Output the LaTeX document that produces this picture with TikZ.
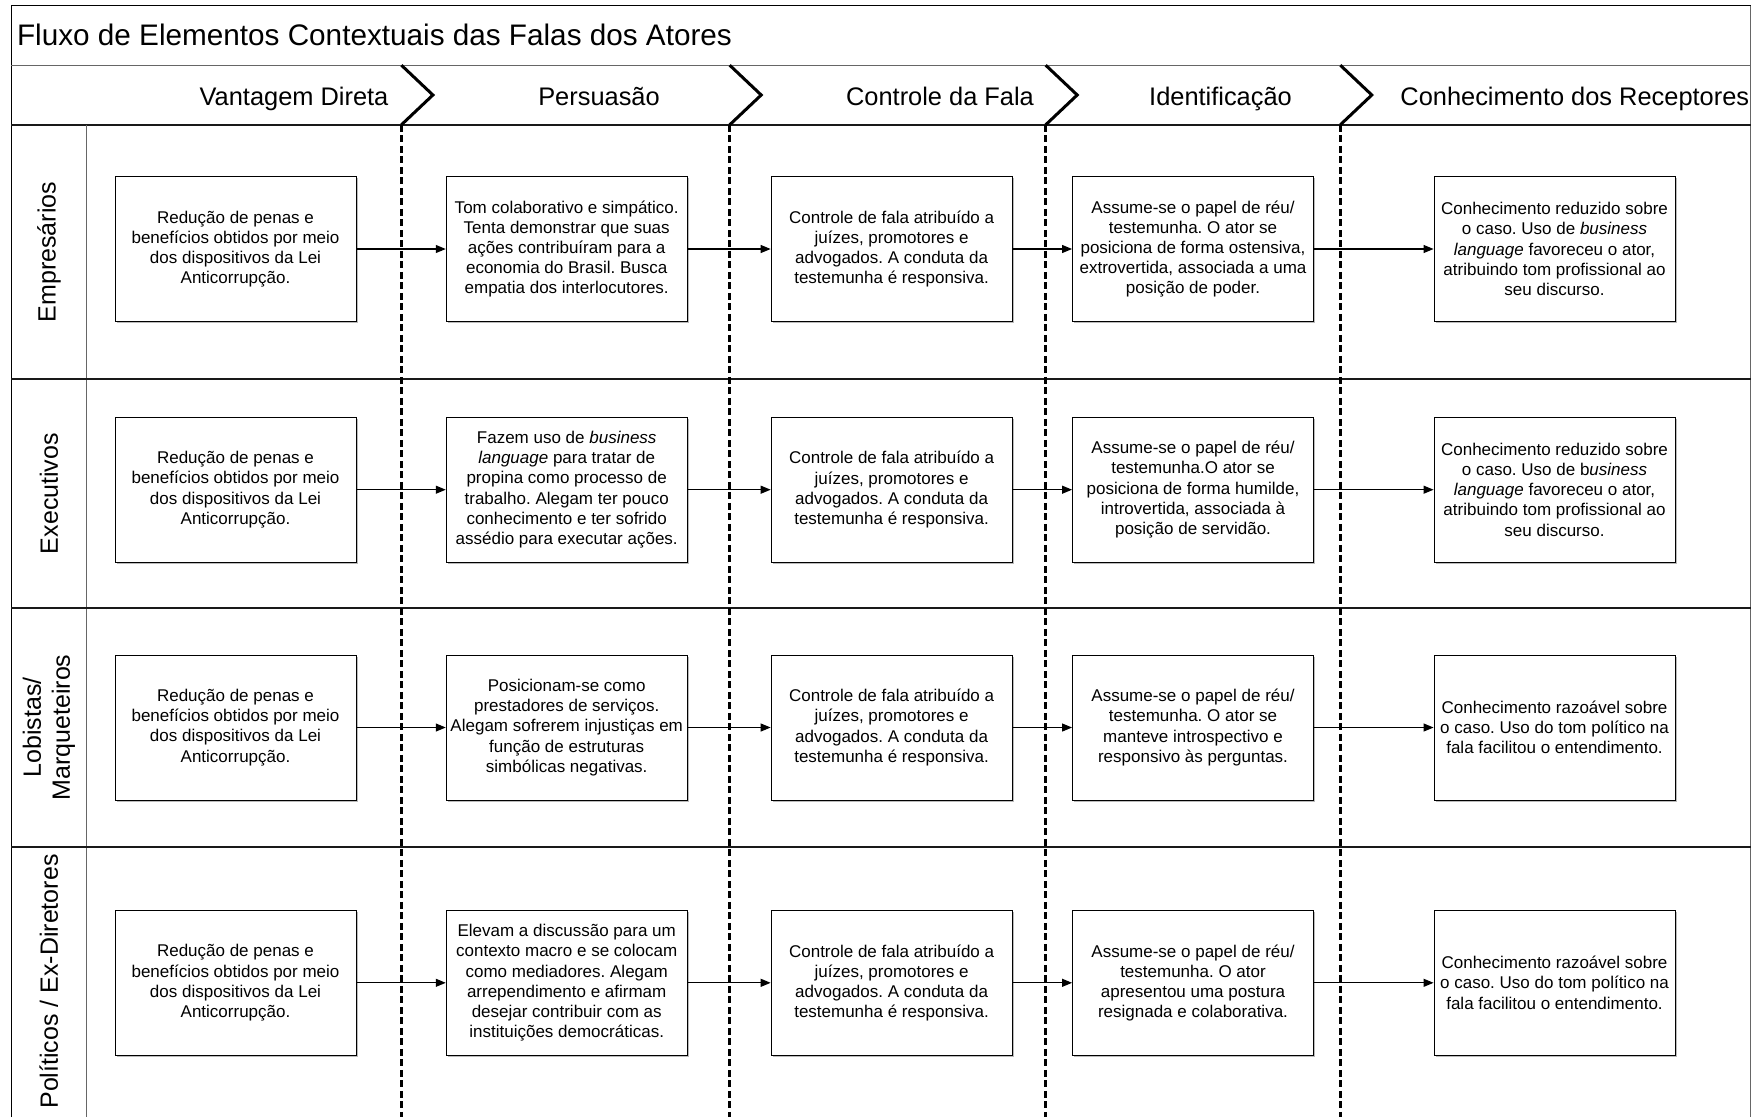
\documentclass[tikz,border=0pt]{standalone}
\usepackage{fontspec}
\setmainfont{Liberation Sans}
\frenchspacing
\usetikzlibrary{arrows.meta,shadows}
\begin{document}
\begin{tikzpicture}[x=1pt,y=-1pt,
  stagebox/.style={draw=black, line width=0.9pt, fill=white,
    minimum width=241pt, minimum height=145pt, inner sep=0pt, align=center,
    font=\fontsize{17}{20.2}\selectfont,
    drop shadow={shadow xshift=1.6pt, shadow yshift=-1.6pt, fill=black!45, opacity=0.6}},
  flow/.style={line width=1.1pt, -{Triangle[length=10pt,width=8pt]}},
  phase/.style={font=\fontsize{25.4}{29}\selectfont, inner sep=0pt,
    text height=18.5pt, text depth=5.5pt},
  lane/.style={font=\fontsize{25}{29}\selectfont, inner sep=0pt, rotate=90, align=center},
  chevron/.style={line width=3pt, line join=miter},
  boundary/.style={line width=3.4pt, dash pattern=on 7pt off 3.5pt},
  laneline/.style={line width=1.8pt, draw=black!90},
  thinline/.style={line width=1.1pt, draw=black!60}]

\useasboundingbox[fill=white] (0,0) rectangle (1763,1117);

% outer frame (open at the bottom)
\draw[line width=1.4pt] (11.2,1117) -- (11.2,5.6) -- (1750.7,5.6);
\draw[thinline] (1750.7,5.6) -- (1750.7,1117);

% title and phase rows
\draw[thinline] (11.2,65.2) -- (1750.7,65.2);
\draw[laneline] (11.2,124.8) -- (1750.7,124.8);
\node[anchor=west, inner sep=0pt, font=\fontsize{29.7}{34}\selectfont,
  text height=21.5pt, text depth=6.5pt] (title) at (16.9,38.3)
  {Fluxo de Elementos Contextuais das Falas dos Atores};

% lane separators
\draw[thinline] (86.6,124.8) -- (86.6,1117);
\draw[laneline] (11.2,378.9) -- (1750.7,378.9);
\draw[laneline] (11.2,608.3) -- (1750.7,608.3);
\draw[laneline] (11.2,846.7) -- (1750.7,846.7);

% phase labels
\node[phase] (ph1) at (294,98.8) {Vantagem Direta};
\node[phase] (ph2) at (599,98.8) {Persuasão};
\node[phase] (ph3) at (940,98.8) {Controle da Fala};
\node[phase] (ph4) at (1220.5,98.8) {Identificação};
\node[phase] (ph5) at (1574.8,98.8) {Conhecimento dos Receptores};

% chevrons and phase boundaries
\foreach \xa/\xb in {401.4/432.9, 729.7/761.2, 1045.7/1077.2, 1340.3/1371.8}{
  \draw[chevron] (\xa,65.2) -- (\xb,95.0) -- (\xa,124.8);
  \draw[boundary] (\xa,124.8) -- (\xa,1117);
}

% lane labels
\node[lane] (l1) at (48.9,252) {Empresários};
\node[lane] (l2) at (48.9,493.6) {Executivos};
\node[lane] (l3) at (48.9,727.5) {Lobistas/\\Marqueteiros};
\node[lane] (l4) at (48.9,981.5) {Políticos / Ex-Diretores};

% lane 1: Empresarios
\node[stagebox] (a1) at (235.5,249) {Redução de penas e\\benefícios obtidos por meio\\dos dispositivos da Lei\\Anticorrupção.};
\node[stagebox] (a2) at (566.7,249) {Tom colaborativo e simpático.\\Tenta demonstrar que suas\\ações contribuíram para a\\economia do Brasil. Busca\\empatia dos interlocutores.};
\node[stagebox] (a3) at (891.6,249) {Controle de fala atribuído a\\juízes, promotores e\\advogados. A conduta da\\testemunha é responsiva.};
\node[stagebox] (a4) at (1193,249) {Assume-se o papel de réu/\\testemunha. O ator se\\posiciona de forma ostensiva,\\extrovertida, associada a uma\\posição de poder.};
\node[stagebox] (a5) at (1554.5,249) {Conhecimento reduzido sobre\\o caso. Uso de \textit{business}\\\textit{language} favoreceu o ator,\\atribuindo tom profissional ao\\seu discurso.};

% lane 2: Executivos
\node[stagebox] (b1) at (235.5,489.7) {Redução de penas e\\benefícios obtidos por meio\\dos dispositivos da Lei\\Anticorrupção.};
\node[stagebox] (b2) at (566.7,489.7) {Fazem uso de \textit{business}\\\textit{language} para tratar de\\propina como processo de\\trabalho. Alegam ter pouco\\conhecimento e ter sofrido\\assédio para executar ações.};
\node[stagebox] (b3) at (891.6,489.7) {Controle de fala atribuído a\\juízes, promotores e\\advogados. A conduta da\\testemunha é responsiva.};
\node[stagebox] (b4) at (1193,489.7) {Assume-se o papel de réu/\\testemunha.O ator se\\posiciona de forma humilde,\\introvertida, associada à\\posição de servidão.};
\node[stagebox] (b5) at (1554.5,489.7) {Conhecimento reduzido sobre\\o caso. Uso de b\textit{usiness}\\\textit{language} favoreceu o ator,\\atribuindo tom profissional ao\\seu discurso.};

% lane 3: Lobistas / Marqueteiros
\node[stagebox] (c1) at (235.5,727.5) {Redução de penas e\\benefícios obtidos por meio\\dos dispositivos da Lei\\Anticorrupção.};
\node[stagebox] (c2) at (566.7,727.5) {Posicionam-se como\\prestadores de serviços.\\Alegam sofrerem injustiças em\\função de estruturas\\simbólicas negativas.};
\node[stagebox] (c3) at (891.6,727.5) {Controle de fala atribuído a\\juízes, promotores e\\advogados. A conduta da\\testemunha é responsiva.};
\node[stagebox] (c4) at (1193,727.5) {Assume-se o papel de réu/\\testemunha. O ator se\\manteve introspectivo e\\responsivo às perguntas.};
\node[stagebox] (c5) at (1554.5,727.5) {Conhecimento razoável sobre\\o caso. Uso do tom político na\\fala facilitou o entendimento.};

% lane 4: Politicos / Ex-Diretores
\node[stagebox] (d1) at (235.5,982.8) {Redução de penas e\\benefícios obtidos por meio\\dos dispositivos da Lei\\Anticorrupção.};
\node[stagebox] (d2) at (566.7,982.8) {Elevam a discussão para um\\contexto macro e se colocam\\como mediadores. Alegam\\arrependimento e afirmam\\desejar contribuir com as\\instituições democráticas.};
\node[stagebox] (d3) at (891.6,982.8) {Controle de fala atribuído a\\juízes, promotores e\\advogados. A conduta da\\testemunha é responsiva.};
\node[stagebox] (d4) at (1193,982.8) {Assume-se o papel de réu/\\testemunha. O ator\\apresentou uma postura\\resignada e colaborativa.};
\node[stagebox] (d5) at (1554.5,982.8) {Conhecimento razoável sobre\\o caso. Uso do tom político na\\fala facilitou o entendimento.};

% flow between stages
\foreach \r in {a,b,c,d}{
  \draw[flow] (\r1.east) -- (\r2.west);
  \draw[flow] (\r2.east) -- (\r3.west);
  \draw[flow] (\r3.east) -- (\r4.west);
  \draw[flow] (\r4.east) -- (\r5.west);
}
\end{tikzpicture}
\end{document}
